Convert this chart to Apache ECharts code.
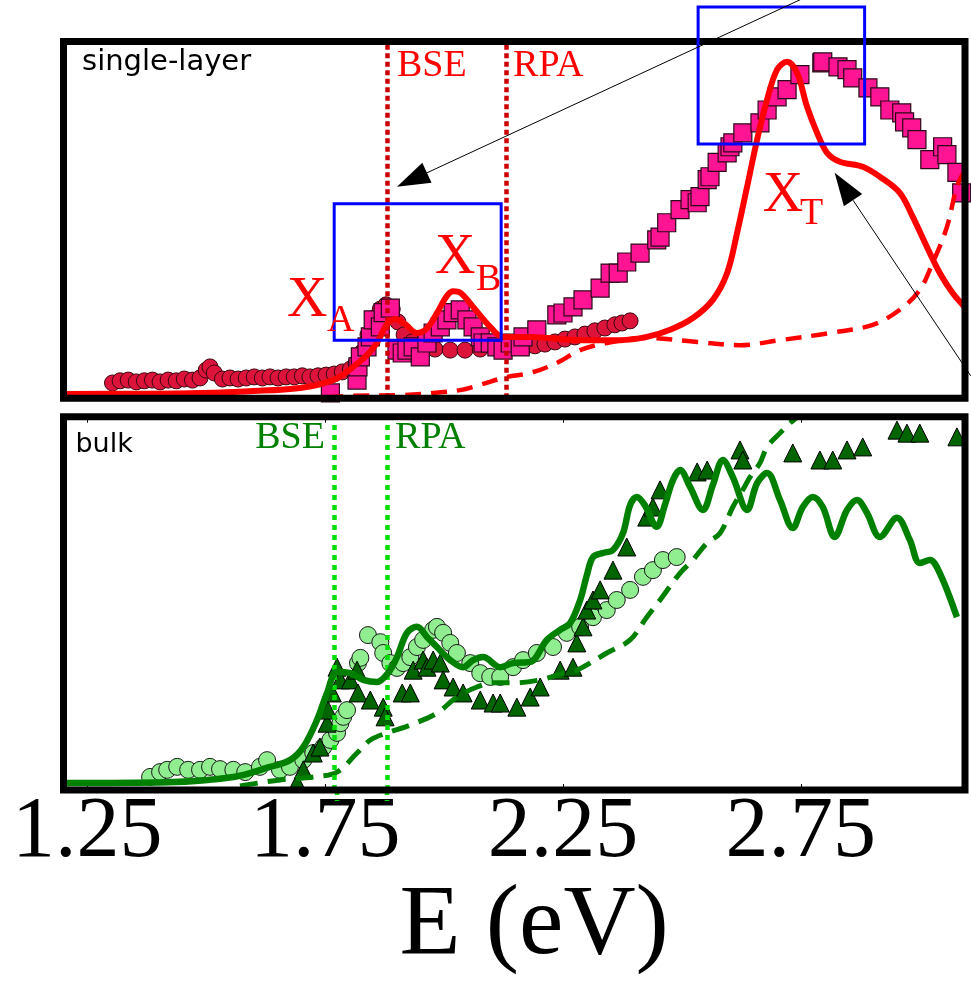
<!DOCTYPE html>
<html><head><meta charset="utf-8">
<script src="https://cdn.jsdelivr.net/npm/echarts@6/dist/echarts.min.js"></script>
<style>html,body{margin:0;padding:0;background:#fff}#c{width:971px;height:989px}</style>
</head><body><div id="c"></div>
<script>
// ---------- data (E in eV, intensity in arbitrary units 0..100 of each panel) ----------
const tickValues = [1.25, 1.75, 2.25, 2.75];

// single-layer panel
const slBse = [[1.200,1.2],[1.382,1.3],[1.487,1.5],[1.592,2.0],[1.697,2.9],[1.767,5.1],[1.809,8.8],[1.838,12.1],[1.859,15.5],[1.880,20.8],[1.897,22.2],[1.918,20.8],[1.943,18.3],[1.964,19.6],[1.985,23.9],[2.006,28.7],[2.019,30.0],[2.034,29.6],[2.061,25.6],[2.097,20.0],[2.124,17.2],[2.181,17.2],[2.286,16.3],[2.370,16.3],[2.426,17.2],[2.475,19.2],[2.523,22.5],[2.565,27.6],[2.595,35.1],[2.616,46.4],[2.637,59.3],[2.658,72.5],[2.679,83.7],[2.700,92.1],[2.721,94.3],[2.742,91.2],[2.763,81.7],[2.784,74.4],[2.805,68.8],[2.832,66.3],[2.880,64.9],[2.916,62.1],[2.958,57.6],[2.985,50.9],[3.015,42.4],[3.042,35.1],[3.069,29.5],[3.095,25.5]];
const slRpa = [[1.700,-0.5],[1.803,0.7],[1.908,0.9],[1.977,1.5],[2.034,2.3],[2.076,3.8],[2.132,6.0],[2.181,7.1],[2.237,9.9],[2.286,13.5],[2.342,15.5],[2.426,16.9],[2.532,15.8],[2.622,14.9],[2.706,16.3],[2.811,18.3],[2.901,20.6],[2.958,24.8],[3.000,30.4],[3.027,37.9],[3.057,48.0],[3.078,59.3],[3.095,64.0]];
const slExpSquares = [[1.761,1.5],[1.817,5.1],[1.819,8.8],[1.824,11.6],[1.838,14.4],[1.845,17.2],[1.851,22.0],[1.866,20.0],[1.872,24.0],[1.887,25.3],[1.901,13.5],[1.912,12.7],[1.922,13.5],[1.935,14.4],[1.950,11.6],[1.964,15.5],[1.977,18.3],[1.992,20.0],[2.006,22.0],[2.019,24.0],[2.034,24.8],[2.048,22.0],[2.061,20.0],[2.076,17.2],[2.082,15.5],[2.097,15.5],[2.111,14.4],[2.124,13.5],[2.139,15.5],[2.160,14.4],[2.166,17.2],[2.195,19.2],[2.237,23.4],[2.250,23.9],[2.271,25.6],[2.292,27.6],[2.328,30.9],[2.349,35.1],[2.366,35.1],[2.384,38.2],[2.412,40.7],[2.447,44.4],[2.454,45.2],[2.468,49.2],[2.496,52.9],[2.517,55.7],[2.532,54.8],[2.538,56.5],[2.553,61.3],[2.559,62.1],[2.574,66.1],[2.595,68.8],[2.601,70.5],[2.607,71.6],[2.628,74.4],[2.664,77.2],[2.679,80.8],[2.700,84.5],[2.721,86.5],[2.748,90.7],[2.794,94.0],[2.796,94.3],[2.828,92.9],[2.847,92.1],[2.859,89.8],[2.891,87.0],[2.916,84.5],[2.937,80.8],[2.962,80.0],[2.968,77.5],[2.983,75.8],[2.994,72.5],[3.021,66.9],[3.048,70.5],[3.057,68.3],[3.078,63.3],[3.088,57.6]];
const slExpCircles = [[1.303,4.3],[1.319,4.9],[1.336,5.1],[1.353,4.6],[1.370,4.9],[1.387,5.1],[1.403,4.6],[1.420,5.1],[1.437,4.9],[1.454,5.4],[1.471,5.1],[1.487,5.7],[1.500,7.9],[1.508,8.8],[1.517,7.1],[1.534,5.4],[1.550,5.7],[1.567,5.4],[1.584,5.7],[1.601,6.0],[1.618,5.7],[1.634,6.0],[1.651,5.7],[1.668,6.0],[1.685,6.0],[1.702,6.3],[1.718,6.0],[1.735,6.3],[1.752,6.5],[1.769,6.8],[1.786,7.4],[1.803,8.2],[1.815,9.9],[1.828,13.0],[1.840,17.8],[1.853,22.5],[1.866,25.0],[1.878,26.2],[1.891,25.0],[1.903,21.4],[1.916,17.8],[1.933,15.8],[1.954,14.7],[1.981,13.8],[2.013,13.5],[2.044,13.5],[2.076,13.8],[2.107,14.1],[2.128,14.1],[2.149,14.4],[2.170,14.4],[2.191,14.7],[2.212,15.2],[2.233,15.8],[2.254,16.6],[2.275,17.2],[2.296,18.0],[2.317,18.9],[2.338,19.7],[2.359,20.6],[2.374,21.1],[2.391,21.7]];
const slTransitions = [1.884, 2.132]; // BSE, RPA

// bulk panel
const bkBse = [[1.200,1.9],[1.418,2.1],[1.557,3.5],[1.634,6.2],[1.676,8.0],[1.704,11.5],[1.733,18.8],[1.754,26.0],[1.775,31.6],[1.803,31.3],[1.830,29.5],[1.859,28.9],[1.882,31.3],[1.901,35.6],[1.922,42.1],[1.943,43.7],[1.964,41.0],[1.985,38.3],[2.013,34.8],[2.040,32.9],[2.061,34.8],[2.082,35.6],[2.118,32.9],[2.145,34.0],[2.181,34.3],[2.216,40.2],[2.244,42.9],[2.265,44.7],[2.286,50.9],[2.300,57.5],[2.313,62.4],[2.334,63.5],[2.355,64.3],[2.376,68.8],[2.391,76.3],[2.405,78.5],[2.422,76.3],[2.447,70.5],[2.464,76.3],[2.481,83.0],[2.496,85.7],[2.517,81.2],[2.544,75.0],[2.565,81.7],[2.586,88.4],[2.607,83.8],[2.637,75.0],[2.658,82.2],[2.679,84.9],[2.706,77.7],[2.733,70.2],[2.754,75.8],[2.775,78.5],[2.796,75.8],[2.821,67.8],[2.847,75.0],[2.868,77.7],[2.889,74.2],[2.916,67.8],[2.952,72.9],[2.979,67.0],[3.000,60.8],[3.021,61.6],[3.042,58.1],[3.078,46.3]];
const bkRpa = [[1.571,1.1],[1.655,2.7],[1.725,3.5],[1.775,4.8],[1.817,9.9],[1.845,13.4],[1.880,15.3],[1.929,17.4],[1.985,20.6],[2.027,24.9],[2.069,27.6],[2.103,28.7],[2.145,28.7],[2.202,29.5],[2.250,31.3],[2.279,32.1],[2.342,36.7],[2.391,40.2],[2.426,46.3],[2.454,50.9],[2.496,58.1],[2.523,61.6],[2.553,66.2],[2.580,68.8],[2.607,75.8],[2.628,80.4],[2.643,83.8],[2.664,87.6],[2.679,91.9],[2.706,95.6],[2.727,98.3],[2.748,100.5],[2.770,104.0]];
const bkExpTriangles = [[1.691,1.9],[1.704,5.4],[1.725,9.9],[1.739,11.5],[1.754,17.9],[1.756,21.4],[1.765,26.0],[1.775,32.9],[1.782,29.5],[1.803,29.5],[1.817,32.1],[1.819,26.0],[1.845,24.1],[1.872,22.2],[1.876,19.6],[1.912,26.0],[1.929,26.0],[1.935,32.1],[1.956,34.8],[1.964,32.9],[1.977,34.8],[1.992,34.0],[1.998,29.5],[2.019,27.6],[2.040,26.0],[2.076,24.1],[2.103,23.3],[2.118,23.3],[2.153,22.2],[2.181,24.9],[2.202,27.6],[2.244,32.1],[2.271,32.9],[2.279,39.4],[2.292,43.7],[2.300,48.2],[2.313,50.9],[2.328,53.6],[2.355,58.9],[2.384,65.1],[2.426,73.1],[2.439,75.8],[2.454,80.4],[2.532,85.2],[2.553,85.7],[2.622,91.1],[2.628,88.4],[2.733,90.3],[2.790,88.4],[2.817,88.4],[2.847,91.1],[2.880,91.9],[2.952,96.4],[2.973,95.6],[3.000,95.6],[3.078,94.6]];
const bkExpCircles = [[1.382,3.5],[1.403,4.8],[1.418,5.4],[1.439,6.2],[1.462,5.4],[1.487,5.4],[1.508,6.2],[1.529,5.6],[1.557,5.4],[1.582,4.8],[1.613,6.2],[1.628,8.0],[1.655,5.4],[1.676,6.2],[1.704,8.0],[1.725,9.9],[1.746,11.5],[1.761,13.4],[1.775,15.3],[1.782,17.9],[1.788,19.6],[1.796,21.4],[1.819,34.0],[1.824,35.4],[1.840,41.5],[1.866,39.6],[1.872,36.7],[1.887,34.0],[1.901,32.7],[1.914,34.0],[1.929,35.6],[1.943,38.3],[1.956,40.2],[1.977,42.9],[1.985,43.7],[1.998,42.1],[2.013,39.4],[2.027,36.7],[2.055,34.0],[2.076,31.3],[2.097,30.3],[2.118,30.3],[2.145,32.9],[2.166,34.8],[2.195,36.7],[2.229,38.3],[2.258,42.1],[2.286,43.7],[2.313,46.3],[2.342,48.2],[2.363,50.9],[2.391,53.6],[2.418,57.1],[2.439,58.9],[2.460,61.6],[2.489,62.4]];
const bkTransitions = [1.775, 1.880]; // BSE, RPA

// ---------- layout ----------
const L = 63.5, W = 901.5;
const G0 = {top: 41.5, height: 356.8};
const G1 = {top: 416.7, height: 373.3};
const XMIN = 1.2, XMAX = 3.095;
const SERIF = "'Liberation Serif','Times New Roman',serif";

const chart = echarts.init(document.getElementById('c'));
const dotted = (c, dash) => ({color: c, width: 4.5, type: dash, opacity: 1});
const option = {
  animation: false,
  backgroundColor: '#fff',
  grid: [
    {left: L, top: G0.top, width: W, height: G0.height},
    {left: L, top: G1.top, width: W, height: G1.height}
  ],
  xAxis: [
    {gridIndex: 0, type: 'value', min: XMIN, max: XMAX, show: false},
    {gridIndex: 1, type: 'value', min: XMIN, max: XMAX,
      axisLine: {show: false}, splitLine: {show: false},
      axisTick: {show: true, inside: true, length: 6, customValues: tickValues, lineStyle: {color: '#000', width: 1}},
      axisLabel: {customValues: tickValues, fontSize: 86, fontFamily: SERIF, color: '#000', margin: 0,
        formatter: v => v.toFixed(2)},
      name: 'E (eV)', nameLocation: 'middle', nameGap: 76,
      nameTextStyle: {fontSize: 100, fontFamily: SERIF, color: '#000', padding: [0, 0, 0, 40]}},
    {gridIndex: 1, type: 'value', min: XMIN, max: XMAX, position: 'top',
      axisLine: {show: false}, splitLine: {show: false}, axisLabel: {show: false},
      axisTick: {show: true, inside: true, length: 6, customValues: tickValues, lineStyle: {color: '#000', width: 1}}}
  ],
  yAxis: [
    {gridIndex: 0, type: 'value', min: 0, max: 100, show: false},
    {gridIndex: 1, type: 'value', min: 0, max: 100, show: false}
  ],
  series: [
    {type: 'scatter', xAxisIndex: 0, yAxisIndex: 0, data: slExpCircles, symbol: 'circle', symbolSize: 16,
      itemStyle: {color: '#dc143c', borderColor: '#3a0810', borderWidth: 1, opacity: 1}, z: 2, silent: true},
    {type: 'scatter', xAxisIndex: 0, yAxisIndex: 0, data: slExpSquares, symbol: 'rect', symbolSize: 18,
      itemStyle: {color: '#ff1493', borderColor: '#2a0a18', borderWidth: 1.2, opacity: 1}, z: 3, silent: true},
    {type: 'line', xAxisIndex: 0, yAxisIndex: 0, data: slRpa, smooth: 0.35, showSymbol: false,
      lineStyle: {color: '#ff0000', width: 4.5, type: [16, 10]}, z: 4, silent: true},
    {type: 'line', xAxisIndex: 0, yAxisIndex: 0, data: slBse, smooth: 0.35, showSymbol: false,
      lineStyle: {color: '#ff0000', width: 6}, z: 5, silent: true,
      markLine: {silent: true, symbol: ['none', 'none'], label: {show: false},
        lineStyle: dotted('#cc0000', [5, 3.5]),
        data: slTransitions.map(x => ({xAxis: x}))}},

    {type: 'scatter', xAxisIndex: 1, yAxisIndex: 1, data: bkExpCircles, symbol: 'circle', symbolSize: 17,
      itemStyle: {color: '#90ee90', borderColor: '#1a1a1a', borderWidth: 1, opacity: 1}, z: 2, silent: true},
    {type: 'scatter', xAxisIndex: 1, yAxisIndex: 1, data: bkExpTriangles, symbol: 'triangle', symbolSize: 18,
      itemStyle: {color: '#006400', borderColor: '#000', borderWidth: 1, opacity: 1}, z: 3, silent: true},
    {type: 'line', xAxisIndex: 1, yAxisIndex: 1, data: bkRpa, smooth: 0.35, showSymbol: false,
      lineStyle: {color: '#008000', width: 5, type: [18, 10]}, z: 4, silent: true},
    {type: 'line', xAxisIndex: 1, yAxisIndex: 1, data: bkBse, smooth: 0.35, showSymbol: false,
      lineStyle: {color: '#008000', width: 6.5}, z: 5, silent: true,
      markLine: {silent: true, symbol: ['none', 'none'], label: {show: false},
        lineStyle: dotted('#00dd00', [5, 5]),
        data: bkTransitions.map(x => ({xAxis: x}))}}
  ]
};
chart.setOption(option);

// ---------- annotations, anchored in data coordinates ----------
const px = (g, p) => chart.convertToPixel({gridIndex: g}, p);
const g = [];
// bulk transition markers continue a little below the frame
bkTransitions.forEach(x => {
  const a = px(1, [x, 0]);
  g.push({type: 'line', z: 99, silent: true, shape: {x1: a[0], y1: a[1], x2: a[0], y2: a[1] + 11},
    style: {stroke: '#00dd00', lineWidth: 4.5, lineDash: [5, 5]}});
});
// frames
[G0, G1].forEach(G => g.push({type: 'rect', z: 100, silent: true,
  shape: {x: L, y: G.top, width: W, height: G.height},
  style: {fill: 'none', stroke: '#000', lineWidth: 7}}));
// blue zoom boxes
[[[1.769, 54.5], [2.120, 16.3]], [[2.534, 109.7], [2.884, 71.3]]].forEach(b => {
  const a = px(0, b[0]), c = px(0, b[1]);
  g.push({type: 'rect', z: 101, silent: true,
    shape: {x: a[0], y: a[1], width: c[0] - a[0], height: c[1] - a[1]},
    style: {fill: 'none', stroke: '#0000ff', lineWidth: 3}});
});
// arrows [tail, tip]
[[[2.758, 112.3], [1.901, 59.3]], [[3.107, 6.3], [2.821, 63.2]]].forEach(ar => {
  const P = px(0, ar[0]), T = px(0, ar[1]);
  const dx = T[0] - P[0], dy = T[1] - P[1], len = Math.hypot(dx, dy);
  const ux = dx / len, uy = dy / len, hl = 33, hw = 11;
  const B = [T[0] - ux * hl, T[1] - uy * hl];
  g.push({type: 'line', z: 102, silent: true, shape: {x1: P[0], y1: P[1], x2: B[0], y2: B[1]},
    style: {stroke: '#000', lineWidth: 1}});
  g.push({type: 'polygon', z: 102, silent: true,
    shape: {points: [T, [B[0] - uy * hw, B[1] + ux * hw], [B[0] + uy * hw, B[1] - ux * hw]]},
    style: {fill: '#000'}});
});
// texts
const txt = (gi, p, text, size, fam, color) => {
  const q = px(gi, p);
  g.push({type: 'text', z: 103, silent: true, x: q[0], y: q[1],
    style: {text, fontSize: size, fontFamily: fam, fill: color, align: 'left', verticalAlign: 'middle'}});
};
const SANS = "'DejaVu Sans',sans-serif";
txt(0, [1.239, 94.0], 'single-layer', 29, SANS, '#000');
txt(1, [1.225, 92.4], 'bulk', 27, SANS, '#000');
txt(0, [1.901, 93.1], 'BSE', 38, SERIF, '#ff0000');
txt(0, [2.145, 93.1], 'RPA', 38, SERIF, '#ff0000');
txt(1, [1.603, 94.3], 'BSE', 38, SERIF, '#008000');
txt(1, [1.897, 94.3], 'RPA', 38, SERIF, '#008000');
txt(0, [1.670, 27.3], 'X', 56, SERIF, '#ff0000');
txt(0, [1.754, 21.8], 'A', 38, SERIF, '#ff0000');
txt(0, [1.981, 39.1], 'X', 56, SERIF, '#ff0000');
txt(0, [2.067, 33.2], 'B', 38, SERIF, '#ff0000');
txt(0, [2.670, 56.6], 'X', 56, SERIF, '#ff0000');
txt(0, [2.748, 51.7], 'T', 38, SERIF, '#ff0000');
chart.setOption({graphic: g});
</script></body></html>
